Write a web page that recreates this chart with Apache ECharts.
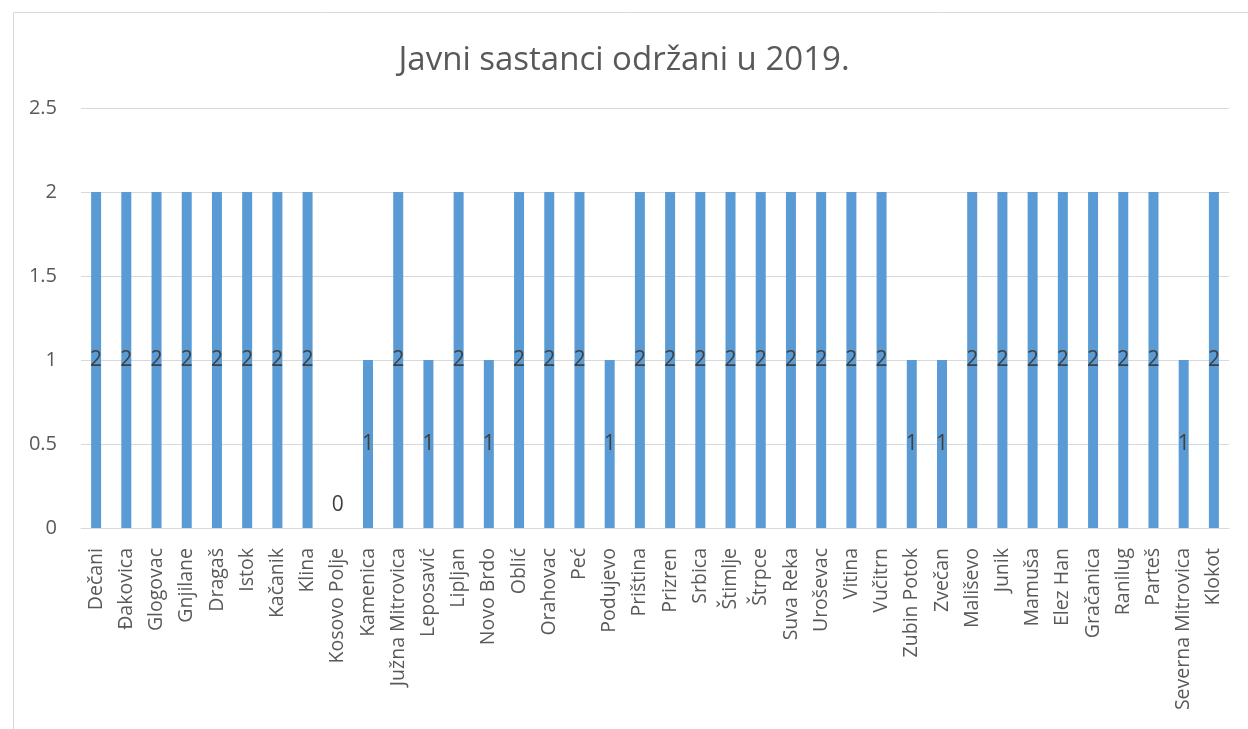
<!DOCTYPE html>
<html>
<head>
<meta charset="utf-8">
<script src="https://cdn.jsdelivr.net/npm/echarts@6/dist/echarts.min.js"></script>
<style>
html,body{margin:0;padding:0;background:#fff;}
#c{width:1248px;height:729px;}
</style>
</head>
<body>
<div id="c"></div>
<script>
const titleText = "Javni sastanci održani u 2019.";
const categories = ["Dečani","Đakovica","Glogovac","Gnjilane","Dragaš","Istok","Kačanik","Klina","Kosovo Polje","Kamenica","Južna Mitrovica","Leposavić","Lipljan","Novo Brdo","Oblić","Orahovac","Peć","Podujevo","Priština","Prizren","Srbica","Štimlje","Štrpce","Suva Reka","Uroševac","Vitina","Vučitrn","Zubin Potok","Zvečan","Mališevo","Junik","Mamuša","Elez Han","Gračanica","Ranilug","Parteš","Severna Mitrovica","Klokot"];
const values = [2,2,2,2,2,2,2,2,0,1,2,1,2,1,2,2,2,1,2,2,2,2,2,2,2,2,2,1,1,2,2,2,2,2,2,2,1,2];

const chart = echarts.init(document.getElementById('c'));
const font = "'Open Sans', 'DejaVu Sans', sans-serif";
chart.setOption({
  animation: false,
  backgroundColor: '#fff',
  graphic: [{
    type: 'rect', left: 11, top: 10,
    shape: {width: 1260, height: 740},
    style: {fill: 'none', stroke: '#d9d9d9', lineWidth: 1}
  }],
  title: {
    text: titleText, left: 'center', top: 39,
    textStyle: {fontFamily: font, fontSize: 33, fontWeight: 'normal', color: '#595959'}
  },
  grid: {left: 81, right: 19, top: 108, bottom: 201, containLabel: false},
  xAxis: {
    type: 'category', data: categories,
    axisLine: {lineStyle: {color: '#d9d9d9'}},
    axisTick: {show: false},
    axisLabel: {rotate: 90, interval: 0, margin: 20, fontFamily: font, fontSize: 19.5, color: '#595959'}
  },
  yAxis: {
    type: 'value', min: 0, max: 2.5, interval: 0.5,
    axisLine: {show: false}, axisTick: {show: false},
    splitLine: {lineStyle: {color: '#d9d9d9'}},
    axisLabel: {margin: 24, fontFamily: font, fontSize: 20, color: '#595959'}
  },
  series: [{
    type: 'bar',
    barWidth: 10,
    itemStyle: {color: '#5b9bd5'},
    data: values.map(v => v === 0 ? {value: v, label: {position: 'top', distance: 12}} : v),
    label: {show: true, position: 'inside', fontFamily: font, fontSize: 21, color: '#404040'}
  }]
});
</script>
</body>
</html>
